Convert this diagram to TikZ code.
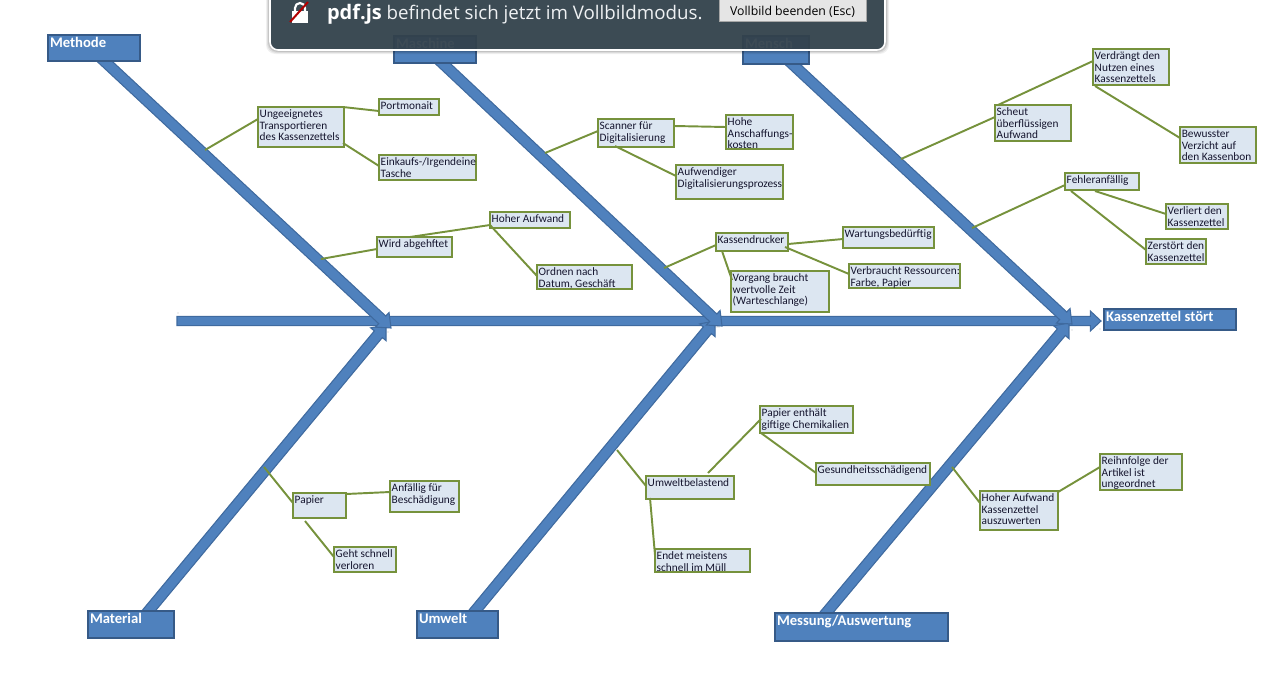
\documentclass[tikz,border=0pt]{standalone}
\usepackage{fontspec}
\setmainfont{Carlito}
\newfontfamily\popfont{Open Sans}
\usetikzlibrary{calc}
\pgfdeclarelayer{bonelayer}
\pgfdeclarelayer{toplayer}
\pgfsetlayers{bonelayer,main,toplayer}
\definecolor{boneblue}{HTML}{4F81BD}
\definecolor{bonedark}{HTML}{3F6A9F}
\definecolor{leafgreen}{HTML}{76923C}
\definecolor{leaffill}{HTML}{DCE6F1}
\definecolor{leaftext}{HTML}{15152E}
\definecolor{popfill}{HTML}{34434E}
\definecolor{poptextcol}{HTML}{EEF1F3}
\tikzset{
  leafbox/.style={draw=leafgreen,fill=leaffill,line width=1.6pt,inner sep=0pt,outer sep=0pt,anchor=north west,text=leaftext},
  catbox/.style={draw=bonedark!85!black,fill=boneblue,line width=1.2pt,inner sep=0pt,outer sep=0pt,anchor=north west,text=white},
  link/.style={draw=leafgreen,line width=1.45pt},
  bonepoly/.style={draw=bonedark,fill=boneblue,line width=.8pt,line join=miter}
}
\newcommand{\leafnode}[6]{%
  \pgfmathsetlengthmacro{\bw}{(#4-#2)*0.75}%
  \pgfmathsetlengthmacro{\bh}{(#5-#3)*0.75}%
  \node[leafbox] (#1) at (#2,#3) {\parbox[t][\bh][t]{\bw}{\fontsize{8.5}{8.6}\selectfont\leftskip=1.3pt\rightskip=0pt plus 1fil\parindent=0pt\rule{0pt}{8pt}#6}};}
\newcommand{\catnode}[6]{%
  \pgfmathsetlengthmacro{\bw}{(#4-#2)*0.75}%
  \pgfmathsetlengthmacro{\bh}{(#5-#3)*0.75}%
  \node[catbox] (#1) at (#2,#3) {\parbox[t][\bh][t]{\bw}{\fontsize{11}{12}\selectfont\bfseries\leftskip=1.5pt\rightskip=0pt plus 1fil\parindent=0pt\rule{0pt}{9.6pt}#6}};}
\newcommand{\lnk}[6]{\draw[link] ([shift={(#2,#3)}]#1.north west) -- ([shift={(#5,#6)}]#4.north west);}
\newcommand{\freelnk}[4]{\draw[link] (#1) -- ([shift={(#3,#4)}]#2.north west);}
% bone: from, to, half width, head length, head half width
\newcommand{\bonearrow}[5]{%
  \coordinate (hb) at ($(#2)!#4!(#1)$);
  \draw[bonepoly] ($(#1)!#3!90:(#2)$) -- ($(hb)!#3!-90:(#1)$) -- ($(hb)!#5!-90:(#1)$) -- (#2)
    -- ($(hb)!#5!90:(#1)$) -- ($(hb)!#3!90:(#1)$) -- ($(#1)!#3!-90:(#2)$) -- cycle;}
\begin{document}
\begin{tikzpicture}[x=0.75pt,y=-0.75pt]
\useasboundingbox (0,0) rectangle (1270,686);
\clip (0,0) rectangle (1270,686);

% category boxes
\catnode{methode}{48}{35}{140}{61}{Methode}
\catnode{maschine}{394}{36}{476}{63}{Maschine}
\catnode{mensch}{743}{36}{809}{64}{Mensch}
\catnode{material}{88}{611}{174}{638}{Material}
\catnode{umwelt}{417}{611}{498}{638}{Umwelt}
\catnode{messung}{775}{613}{948}{641}{Messung/Auswertung}
\catnode{stoert}{1104}{309}{1236}{330}{Kassenzettel stört}

% leaf boxes
\leafnode{ung}{258}{107}{344}{147}{Ungeeignetes\\Transportieren\\des Kassenzettels}
\leafnode{port}{379}{99}{439}{115}{Portmonait}
\leafnode{eink}{379}{155}{476}{180}{\mbox{Einkaufs-/Irgendeine}\\Tasche}
\leafnode{wird}{377}{237}{452}{257}{Wird abgehftet}
\leafnode{hoher}{490}{212}{570}{228}{Hoher Aufwand}
\leafnode{ordn}{537}{265}{632}{289}{Ordnen nach\\Datum, Geschäft}
\leafnode{scan}{598}{119}{674}{147}{Scanner für\\Digitalisierung}
\leafnode{hohe}{726}{115}{793}{149}{Hohe\\Anschaffungs-\\kosten}
\leafnode{aufw}{676}{165}{783}{199}{Aufwendiger\\Digitalisierungsprozess}
\leafnode{kass}{716}{233}{788}{251}{Kassendrucker}
\leafnode{wart}{843}{227}{934}{248}{Wartungsbedürftig}
\leafnode{vorg}{731}{271}{829}{312}{Vorgang braucht\\wertvolle Zeit\\(Warteschlange)}
\leafnode{verb}{849}{264}{960}{288}{\mbox{Verbraucht Ressourcen:}\\Farbe, Papier}
\leafnode{scheut}{995}{105}{1071}{141}{Scheut\\überflüssigen\\Aufwand}
\leafnode{verd}{1093}{49}{1169}{85}{Verdrängt den\\Nutzen eines\\Kassenzettels}
\leafnode{bew}{1180}{127}{1256}{163}{Bewusster\\Verzicht auf\\den Kassenbon}
\leafnode{fehl}{1065}{173}{1139}{190}{Fehleranfällig}
\leafnode{verl}{1166}{204}{1228}{229}{Verliert den\\Kassenzettel}
\leafnode{zerst}{1146}{239}{1206}{264}{Zerstört den\\Kassenzettel}
\leafnode{pap}{293}{493}{346}{518}{Papier}
\leafnode{anf}{390}{481}{459}{512}{Anfällig für\\Beschädigung}
\leafnode{geht}{334}{547}{396}{572}{Geht schnell\\verloren}
\leafnode{umw}{646}{476}{734}{499}{Umweltbelastend}
\leafnode{pe}{760}{406}{853}{433}{Papier enthält\\giftige Chemikalien}
\leafnode{ges}{816}{463}{930}{485}{Gesundheitsschädigend}
\leafnode{endet}{655}{549}{750}{572}{Endet meistens\\schnell im Müll}
\leafnode{hoh}{980}{491}{1058}{530}{Hoher Aufwand\\Kassenzettel\\auszuwerten}
\leafnode{rei}{1100}{454}{1182}{490}{Reihnfolge der\\Artikel ist\\ungeordnet}

% free ends on the bones
\coordinate (c1) at (205,150);
\coordinate (c2) at (321,259);
\coordinate (c3) at (545,153);
\coordinate (c4) at (664,268);
\coordinate (c5) at (901,159);
\coordinate (c6) at (972,228);
\coordinate (c7) at (264,467);
\coordinate (c8) at (617,450);
\coordinate (c9) at (952,467);

% connectors
\freelnk{c1}{ung}{0}{12}
\lnk{ung}{85}{0}{port}{0}{12}
\lnk{ung}{85}{36}{eink}{0}{11}
\freelnk{c2}{wird}{0}{12}
\lnk{wird}{33}{0}{hoher}{0}{13}
\lnk{hoher}{0}{13}{ordn}{0}{11}
\freelnk{c3}{scan}{0}{12}
\lnk{scan}{76}{7}{hohe}{0}{12}
\lnk{scan}{17}{27}{aufw}{0}{11}
\freelnk{c4}{kass}{0}{12}
\lnk{kass}{72}{11}{wart}{0}{12}
\lnk{kass}{69}{14}{verb}{0}{10}
\lnk{kass}{6}{18}{vorg}{1}{9}
\freelnk{c5}{scheut}{0}{12}
\lnk{scheut}{3}{0}{verd}{0}{12}
\lnk{verd}{2}{37}{bew}{0}{11}
\freelnk{c6}{fehl}{0}{12}
\lnk{fehl}{30}{18}{verl}{0}{10}
\lnk{fehl}{6}{18}{zerst}{0}{11}
\freelnk{c7}{pap}{0}{10}
\lnk{pap}{53}{1}{anf}{0}{11}
\lnk{pap}{12}{28}{geht}{0}{10}
\freelnk{c8}{umw}{0}{10}
\lnk{umw}{62}{-3}{pe}{1}{13}
\lnk{pe}{1}{27}{ges}{0}{10}
\lnk{umw}{4}{22}{endet}{0}{6}
\freelnk{c9}{hoh}{0}{12}
\lnk{hoh}{78}{1}{rei}{0}{13}

% bones
\begin{pgfonlayer}{bonelayer}
  \coordinate (sp0) at (177,321);
  \coordinate (sp2) at ([shift={(-3,12)}]stoert.north west);
  \bonearrow{sp0}{sp2}{3.5pt}{8pt}{7.5pt}
  \coordinate (b1a) at ([shift={(7,-3)}]methode.south);
  \coordinate (b1b) at (391,328);
  \coordinate (b2a) at ([shift={(4,-3)}]maschine.south);
  \coordinate (b2b) at (722,326);
  \coordinate (b3a) at ([shift={(13,-3)}]mensch.south);
  \coordinate (b3b) at (1072,324);
  \coordinate (b4a) at ([shift={(15,3)}]material.north);
  \coordinate (b4b) at (386,325);
  \coordinate (b5a) at ([shift={(15,3)}]umwelt.north);
  \coordinate (b5b) at (715,321);
  \coordinate (b6a) at ([shift={(-38,3)}]messung.north);
  \coordinate (b6b) at (1069,323);
  \bonearrow{b4a}{b4b}{3.9pt}{9pt}{7.5pt}
  \bonearrow{b5a}{b5b}{3.9pt}{9pt}{7.5pt}
  \bonearrow{b6a}{b6b}{3.9pt}{9pt}{7.5pt}
  \bonearrow{b1a}{b1b}{3.9pt}{9pt}{7.5pt}
  \bonearrow{b2a}{b2b}{3.9pt}{9pt}{7.5pt}
  \bonearrow{b3a}{b3b}{3.9pt}{9pt}{7.5pt}
\end{pgfonlayer}

% specks
\fill[black!70] (178,313) circle (.4) (388,332) circle (.4) (717,327) circle (.4) (719,327) circle (.4) (1072,330) circle (.4) (1100,329) circle (.4);

% full-screen notice
\begin{pgfonlayer}{toplayer}
  \foreach \g/\o in {4/.06,3/.08,2/.1,1/.14}{
    \fill[black,opacity=\o,rounded corners=7] (270-\g,-12) rectangle (885+\g,50+\g);
  }
  \draw[white,line width=1.2pt,fill=popfill,fill opacity=.92,rounded corners=6] (270,-12) rectangle (885,50);
  \node[anchor=base west,inner sep=0pt,outer sep=0pt,text=poptextcol,font=\popfont\fontsize{14.05}{16}\selectfont] (poptext) at (327,19) {{\fontsize{15}{16}\selectfont\bfseries\color{white}pdf.js} befindet sich jetzt im Vollbildmodus.};
  \node[anchor=north west,minimum width=110.25pt,minimum height=16.5pt,inner sep=0pt,outer sep=0pt,text height=11pt,text depth=3pt,draw=black!35,fill=black!10,line width=.5pt,text=black,font=\popfont\fontsize{9.2}{10}\selectfont] (popbutton) at (719,-1) {Vollbild beenden (Esc)};
  % lock icon
  \fill[white] (292,11) rectangle (308,23);
  \draw[white,line width=1.6pt] (295,11) -- (295,8) arc[start angle=180,end angle=360,radius=5] -- (305,11);
  \draw[red!70!black,line width=1.5pt] (290,22) -- (308,2);
\end{pgfonlayer}
\end{tikzpicture}
\end{document}
